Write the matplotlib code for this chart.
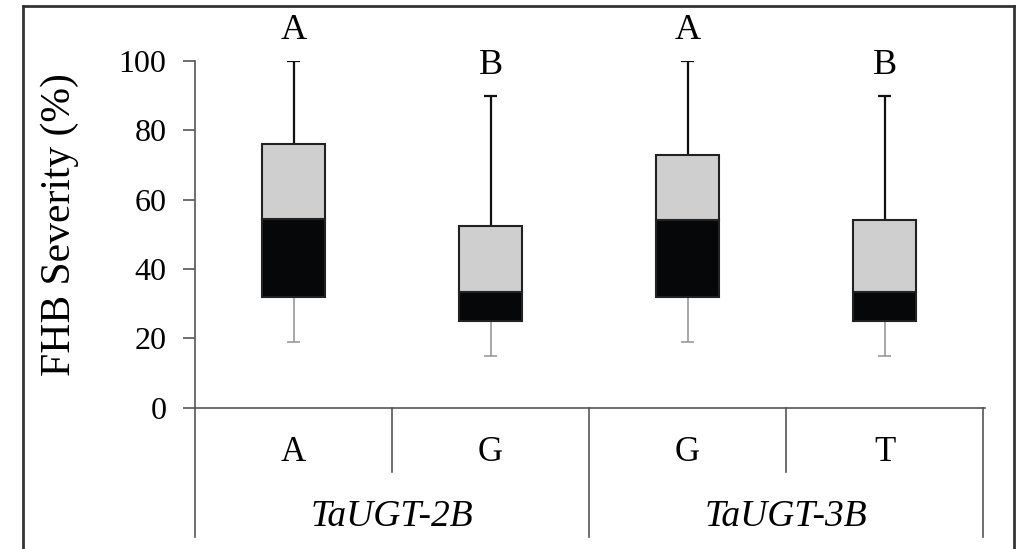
import matplotlib.pyplot as plt
from matplotlib.lines import Line2D

plt.rcParams['font.family'] = ['Liberation Serif', 'DejaVu Serif']

# data
alleles = ['A', 'G', 'G', 'T']
genes = ['TaUGT-2B', 'TaUGT-3B']
whisk_lo = [19, 15, 19, 15]
q1 = [32, 25, 32, 25]
median = [54.5, 33.5, 54, 33.5]
q3 = [76, 52.5, 73, 54]
whisk_hi = [100, 90, 100, 90]
letters = ['A', 'B', 'A', 'B']

W, H = 1025, 549
fig = plt.figure(figsize=(W / 100, H / 100), dpi=100)
ax = fig.add_axes([195 / W, 1 - 407.7 / H, 788 / W, 346.7 / H])

x = list(range(len(alleles)))
bw = 0.32
low_h = [m - a for m, a in zip(median, q1)]
up_h = [b - m for b, m in zip(q3, median)]

# whiskers
ax.vlines(x, q3, whisk_hi, color='#111111', lw=1.6, zorder=1)
ax.hlines(whisk_hi, [i - 0.035 for i in x], [i + 0.035 for i in x], color='#111111', lw=1.6, zorder=1)
ax.vlines(x, whisk_lo, q1, color='#9a9a9a', lw=1.2, zorder=1)
ax.hlines(whisk_lo, [i - 0.035 for i in x], [i + 0.035 for i in x], color='#9a9a9a', lw=1.2, zorder=1)

# stacked boxes
ax.bar(x, low_h, bottom=q1, width=bw, color='#050708', edgecolor='#222222', lw=1.5, zorder=2)
ax.bar(x, up_h, bottom=median, width=bw, color='#d0cfd0', edgecolor='#222222', lw=1.5, zorder=2)

for i, t in enumerate(letters):
    ax.text(x[i], whisk_hi[i] + 8.7, t, ha='center', va='center', fontsize=26)

ax.set_xlim(-0.5, 3.5)
ax.set_ylim(0, 100)
ax.set_yticks(range(0, 101, 20))
ax.tick_params(axis='y', length=8.6, width=1.2, color='#555555', pad=12, labelsize=23)
ax.set_xticks([])
for s in ['top', 'right']:
    ax.spines[s].set_visible(False)
ax.spines['left'].set_color('#555555')
ax.spines['bottom'].set_color('#555555')
ax.spines['left'].set_linewidth(1.2)
ax.spines['bottom'].set_linewidth(1.2)

# category separators below axis
trans = ax.get_xaxis_transform()
for sx, depth in [(-0.5, -0.373), (0.5, -0.185), (1.5, -0.373), (2.5, -0.185), (3.5, -0.373)]:
    ax.add_line(Line2D([sx, sx], [0, depth], transform=trans, color='#555555', lw=1.2, clip_on=False))
ax.add_line(Line2D([3.5, 3.51], [0, 0], transform=trans, color='#555555', lw=1.2, clip_on=False))

for i, a in enumerate(alleles):
    ax.text(x[i], -0.128, a, transform=trans, ha='center', va='center', fontsize=25)
for j, g in enumerate(genes):
    ax.text(2 * j + 0.5, -0.315, g, transform=trans, ha='center', va='center', fontsize=27, style='italic')

fig.text(60 / W, 1 - 225 / H, 'FHB Severity (%)', rotation=90, ha='center', va='center', fontsize=30)

# outer frame
fig.add_artist(Line2D([23 / W, 23 / W], [0, 1 - 6 / H], color='#333333', lw=2, transform=fig.transFigure))
fig.add_artist(Line2D([23 / W, 1014 / W], [1 - 6 / H, 1 - 6 / H], color='#333333', lw=2, transform=fig.transFigure))
fig.add_artist(Line2D([1014 / W, 1014 / W], [0, 1 - 6 / H], color='#333333', lw=2, transform=fig.transFigure))

fig.savefig('out.png', dpi=100)
